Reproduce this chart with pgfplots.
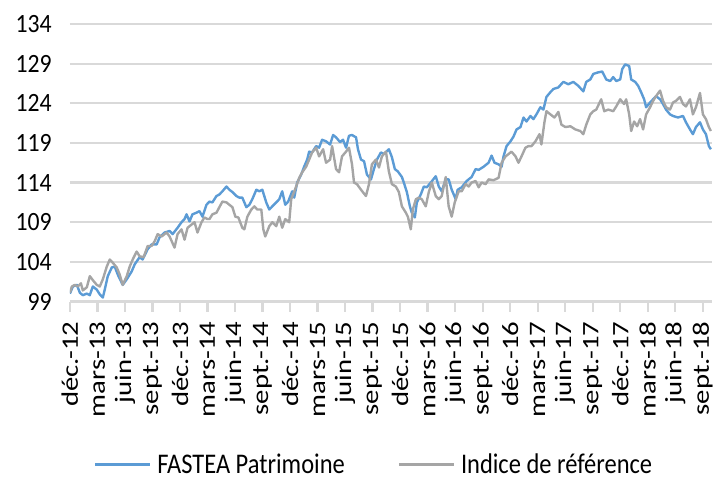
\documentclass[border=0pt]{standalone}
\usepackage{fontspec}
\setmainfont{Carlito}
\newfontfamily\yfont[FakeStretch=0.9]{Carlito}
\newfontfamily\legfont[FakeStretch=0.86]{Carlito}
\newfontfamily\xfont[FakeStretch=1.22]{Carlito}
\usepackage{pgfplots}
\usepackage{pgfplotstable}
\pgfplotsset{compat=1.18}
\definecolor{fblue}{HTML}{5B9BD5}
\definecolor{igray}{HTML}{A5A5A5}
\definecolor{gridc}{HTML}{D9D9D9}

\pgfplotstableread{
m v
0 100.0
0.33 100.9
0.76 101.1
1.09 100.1
1.41 99.8
1.85 100.0
2.17 99.8
2.50 100.9
2.93 100.5
3.26 99.9
3.59 99.5
3.80 100.5
4.13 102.2
4.57 103.3
4.89 103.4
5.22 102.4
5.76 101.1
6.20 101.8
6.74 102.8
7.07 103.7
7.61 104.6
7.93 104.3
8.48 105.6
8.91 106.2
9.46 106.2
9.78 107.1
10.33 107.7
10.87 107.9
11.20 107.5
11.74 108.3
12.17 109.0
12.50 109.4
12.72 110.0
13.04 109.1
13.37 110.0
13.80 110.2
14.13 110.4
14.46 109.7
14.89 111.2
15.22 111.6
15.54 111.5
15.98 112.3
16.30 112.5
16.63 112.9
17.07 113.5
17.39 113.1
17.72 112.8
18.15 112.3
18.48 112.1
18.80 112.1
19.24 110.9
19.57 111.2
19.89 111.9
20.33 113.1
20.65 112.9
20.98 113.1
21.41 111.5
21.74 110.6
22.07 111.0
22.50 111.5
22.83 111.9
23.15 112.9
23.48 111.2
23.80 111.6
24.24 112.9
24.46 112.1
24.78 114.0
25.22 115.0
25.54 116.0
25.87 116.9
26.09 117.9
26.41 117.8
26.85 118.6
27.17 118.4
27.50 119.4
27.93 119.2
28.37 118.8
28.70 120.0
29.02 119.7
29.46 119.1
29.78 119.4
30.11 118.4
30.43 119.9
30.76 120.0
31.20 119.7
31.41 118.2
31.74 116.9
32.07 116.7
32.39 115.0
32.83 114.4
33.15 115.7
33.48 116.9
33.91 117.8
34.24 117.6
34.78 118.2
35.11 117.2
35.43 115.7
35.76 115.4
36.20 114.7
36.41 114.0
36.74 112.8
37.07 111.0
37.28 110.2
37.61 109.6
37.83 111.5
38.26 112.5
38.59 113.5
38.91 113.4
39.35 114.0
39.89 114.8
40.22 113.5
40.54 112.9
40.98 114.4
41.30 114.4
41.63 113.1
42.07 111.9
42.28 113.1
42.72 113.4
43.26 114.2
43.80 114.7
44.24 115.7
44.57 115.6
45.11 116.0
45.65 116.5
45.98 117.4
46.30 116.5
46.74 116.3
47.07 116.0
47.28 117.3
47.61 118.6
48.04 119.2
48.37 119.8
48.70 120.7
49.13 121.0
49.46 122.2
49.78 121.7
50.22 122.4
50.54 122.0
50.87 122.6
51.30 123.5
51.63 123.2
51.96 124.8
52.39 125.4
52.72 125.8
53.26 126.0
53.80 126.7
54.35 126.4
54.89 126.7
55.43 126.2
55.98 125.5
56.30 126.7
56.74 127.0
57.07 127.7
57.61 127.9
58.04 128.0
58.48 127.0
58.91 126.8
59.24 127.3
59.57 126.8
60.00 127.0
60.22 128.3
60.54 128.9
60.98 128.7
61.20 127.0
61.63 126.7
61.96 126.2
62.28 125.4
62.61 124.5
62.83 123.5
63.26 124.1
63.59 124.5
63.91 124.9
64.35 124.5
64.67 123.9
65.00 123.2
65.43 122.6
65.76 122.4
66.30 122.2
66.85 122.4
67.17 121.6
67.61 120.7
67.93 120.1
68.26 121.0
68.70 121.6
69.02 120.7
69.35 120.1
69.67 118.6
69.89 118.2
}\fastea

\pgfplotstableread{
m v
0 100.1
0.22 100.9
0.54 101.1
0.87 100.9
1.20 101.3
1.41 100.4
1.85 100.8
2.17 102.2
2.50 101.7
2.93 101.1
3.26 100.9
3.59 101.8
4.02 103.4
4.35 104.3
4.67 103.9
5.11 103.3
5.43 102.4
5.76 101.1
6.20 102.2
6.52 103.4
6.85 104.3
7.28 105.3
7.61 104.7
8.04 104.6
8.48 106.0
8.91 106.0
9.24 106.6
9.57 107.5
10.00 107.2
10.54 107.7
10.87 107.2
11.41 105.8
11.74 107.5
12.17 108.1
12.50 106.8
12.83 108.3
13.26 108.7
13.59 109.0
13.91 107.7
14.35 109.0
14.67 109.6
15.00 109.4
15.22 109.4
15.54 110.0
15.98 110.2
16.30 110.9
16.63 111.6
17.07 111.5
17.39 111.2
17.72 110.9
18.04 109.7
18.37 109.6
18.80 108.3
19.02 108.1
19.35 109.7
19.78 110.6
20.11 111.0
20.43 110.6
20.87 110.6
21.09 108.1
21.30 107.2
21.74 108.5
22.07 109.0
22.50 108.5
22.83 109.7
23.15 108.3
23.48 109.4
23.91 109.0
24.13 111.9
24.67 113.5
25.00 114.6
25.33 115.3
25.76 116.0
26.09 116.9
26.41 117.8
26.85 118.4
27.17 117.3
27.61 118.2
27.93 116.5
28.37 116.9
28.59 118.6
29.02 115.7
29.35 115.3
29.67 117.3
30.11 117.9
30.43 118.4
30.76 116.3
30.98 114.0
31.30 113.8
31.74 113.1
32.28 112.3
32.61 113.8
32.93 116.3
33.37 116.9
33.70 115.9
34.02 117.3
34.46 117.9
34.78 115.4
35.11 113.8
35.54 113.5
35.87 112.8
36.20 111.0
36.63 110.2
36.85 109.7
37.17 108.1
37.39 110.6
37.72 111.9
38.04 112.1
38.37 111.9
38.80 111.0
39.13 112.8
39.46 114.0
39.89 112.3
40.22 111.9
40.54 112.3
40.98 114.7
41.30 111.0
41.63 109.7
41.96 111.5
42.39 112.9
42.72 112.9
43.15 113.8
43.48 113.5
43.80 114.0
44.24 114.2
44.57 113.4
44.89 114.0
45.33 113.8
45.65 114.4
46.20 114.3
46.74 114.6
47.07 116.5
47.50 117.3
47.83 117.6
48.15 117.9
48.59 117.3
48.91 116.5
49.24 117.3
49.67 118.4
50.00 118.6
50.33 118.6
50.76 119.2
51.20 120.1
51.41 118.8
51.74 121.6
51.96 123.0
52.39 122.6
52.83 122.2
53.26 122.9
53.59 121.3
54.02 121.0
54.57 121.1
55.11 120.7
55.65 120.5
55.98 120.1
56.30 121.3
56.74 122.6
57.07 123.0
57.39 123.2
57.93 124.5
58.26 123.0
58.70 123.2
59.24 123.0
59.57 123.6
60.00 124.5
60.43 123.9
60.65 124.5
60.98 122.6
61.20 120.5
61.52 121.7
61.85 121.1
62.17 122.0
62.50 120.7
62.83 122.6
63.26 123.5
63.59 124.3
63.91 124.9
64.35 125.6
64.67 124.3
65.00 123.5
65.43 123.2
65.76 124.1
66.09 124.3
66.52 124.8
66.85 123.9
67.17 123.6
67.61 124.5
67.93 122.6
68.26 123.5
68.70 125.3
69.02 122.6
69.35 122.0
69.67 121.0
69.89 120.5
}\indice

\begin{document}
\begin{tikzpicture}
\path (0,0) rectangle (713pt,478pt);
\begin{axis}[
  at={(70pt,176pt)}, anchor=south west,
  width=643pt, height=278pt, scale only axis,
  xmin=0, xmax=70, ymin=99, ymax=134,
  enlargelimits=false, clip=true,
  separate axis lines,
  axis x line*=bottom, axis y line*=left,
  x axis line style={-, color=gridc, line width=2.2pt},
  y axis line style={draw=none},
  ytick={99,104,...,134},
  ytick style={draw=none},
  xtick={0,3,...,69},
  xticklabels={déc.-12,mars-13,juin-13,sept.-13,déc.-13,mars-14,juin-14,sept.-14,déc.-14,mars-15,juin-15,sept.-15,déc.-15,mars-16,juin-16,sept.-16,déc.-16,mars-17,juin-17,sept.-17,déc.-17,mars-18,juin-18,sept.-18},
  xtick align=outside,
  xtick style={color=gridc, line width=2.2pt},
  major tick length=10pt,
  ymajorgrids,
  grid style={color=gridc, line width=2.2pt},
  /pgf/number format/assume math mode=true,
  yticklabel style={font=\yfont\fontsize{26.4}{28}\selectfont, anchor=east, inner sep=0pt, xshift=-18pt},
  xticklabel style={font=\xfont\fontsize{23.6}{26}\selectfont, rotate=90, anchor=east, inner sep=0pt, xshift=-10pt, overlay},
  legend columns=2,
  legend style={draw=none, fill=none, at={(0.0373,-0.626)}, anchor=south west, overlay,
     font=\legfont\fontsize{28.5}{30}\selectfont, inner sep=0pt, nodes={inner sep=0pt},
     /tikz/every odd column/.append style={column sep=6pt},
     /tikz/every even column/.append style={column sep=53pt}},
  legend image code/.code={\draw[#1] (0pt,0pt) -- (55pt,0pt);},
  legend cell align=left,
]
\addplot[color=fblue, line width=2.4pt, line join=round] table[x=m,y=v]{\fastea};
\addlegendentry{FASTEA Patrimoine}
\addplot[color=igray, line width=2.4pt, line join=round] table[x=m,y=v]{\indice};
\addlegendentry{Indice de référence}
\end{axis}
\end{tikzpicture}
\end{document}
